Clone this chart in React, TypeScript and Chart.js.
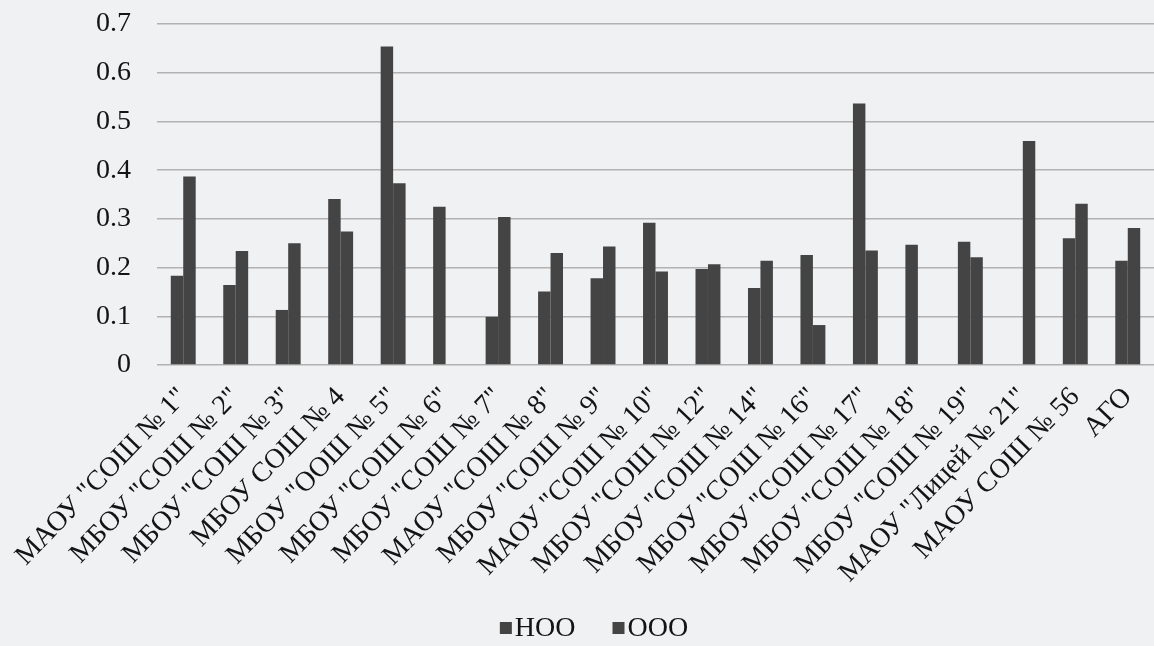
import React, { useEffect, useRef } from "react";
import { Chart, registerables } from "chart.js";

Chart.register(...registerables);

const categories: string[] = [
  'МАОУ "СОШ № 1"',
  'МБОУ "СОШ № 2"',
  'МБОУ "СОШ № 3"',
  "МБОУ СОШ № 4",
  'МБОУ "ООШ № 5"',
  'МБОУ "СОШ № 6"',
  'МБОУ "СОШ № 7"',
  'МАОУ "СОШ № 8"',
  'МБОУ "СОШ № 9"',
  'МАОУ "СОШ № 10"',
  'МБОУ "СОШ № 12"',
  'МБОУ "СОШ № 14"',
  'МБОУ "СОШ № 16"',
  'МБОУ "СОШ № 17"',
  'МБОУ "СОШ № 18"',
  'МБОУ "СОШ № 19"',
  'МАОУ "Лицей № 21"',
  "МАОУ СОШ № 56",
  "АГО",
];

const nooValues: (number | null)[] = [
  0.183, 0.164, 0.113, 0.341, 0.654, 0.325, 0.099, 0.151, 0.178, 0.292,
  0.197, 0.158, 0.226, 0.537, 0.247, 0.253, null, 0.26, 0.214,
];

const oooValues: (number | null)[] = [
  0.387, 0.234, 0.25, 0.274, 0.373, null, 0.304, 0.23, 0.243, 0.192,
  0.207, 0.214, 0.082, 0.235, null, 0.221, 0.46, 0.331, 0.281,
];

const seriesNames = ["НОО", "ООО"];
const yTicks = [0, 0.1, 0.2, 0.3, 0.4, 0.5, 0.6, 0.7];

const FONT = "'Liberation Serif', serif";
const TEXT_COLOR = "#141414";
const BAR_COLOR = "#444444";

// Excel-like legend: small square, tight gap, text; drawn at the bottom.
const bottomLegend = {
  id: "bottomLegend",
  afterDraw(chart: any) {
    const ctx = chart.ctx as CanvasRenderingContext2D;
    const items = chart.data.datasets.map((d: any) => ({
      text: d.label as string,
      color: d.backgroundColor as string,
    }));
    ctx.save();
    ctx.font = `28px ${FONT}`;
    const box = 12;
    const gapBoxText = 3;
    const gapItems = 37;
    const widths = items.map(
      (it: any) => box + gapBoxText + ctx.measureText(it.text).width
    );
    const total =
      widths.reduce((a: number, b: number) => a + b, 0) +
      gapItems * (items.length - 1);
    const centreX = 594;
    let x = centreX - total / 2;
    const cy = chart.height - 18;
    items.forEach((it: any, i: number) => {
      ctx.fillStyle = it.color;
      ctx.fillRect(x, cy - box / 2, box, box);
      ctx.fillStyle = TEXT_COLOR;
      ctx.textBaseline = "middle";
      ctx.textAlign = "left";
      ctx.fillText(it.text, x + box + gapBoxText, cy + 1);
      x += widths[i] + gapItems;
    });
    ctx.restore();
  },
};

export default function App() {
  const ref = useRef<HTMLCanvasElement | null>(null);

  useEffect(() => {
    let chart: Chart | null = null;
    let cancelled = false;
    const build = () => {
      if (cancelled || !ref.current) return;
      chart = new Chart(ref.current, {
        type: "bar",
        data: {
          labels: categories,
          datasets: [
            {
              label: seriesNames[0],
              data: nooValues,
              backgroundColor: BAR_COLOR,
              borderWidth: 0,
              categoryPercentage: 0.475,
              barPercentage: 1.0,
            },
            {
              label: seriesNames[1],
              data: oooValues,
              backgroundColor: BAR_COLOR,
              borderWidth: 0,
              categoryPercentage: 0.475,
              barPercentage: 1.0,
            },
          ],
        },
        options: {
          animation: false,
          responsive: false,
          maintainAspectRatio: false,
          layout: { padding: { top: 24, right: 0, bottom: 48, left: 0 } },
          plugins: {
            legend: { display: false },
            tooltip: { enabled: false },
          },
          scales: {
            x: {
              grid: { display: false, drawTicks: false },
              border: { display: false },
              ticks: {
                font: { family: FONT, size: 28 },
                color: TEXT_COLOR,
                minRotation: 46,
                maxRotation: 46,
                autoSkip: false,
                padding: 16,
              },
              afterFit: (scale: any) => {
                scale.height = 233;
                scale.paddingLeft = 0;
                scale.paddingRight = 0;
              },
            },
            y: {
              min: 0,
              max: 0.7,
              afterBuildTicks: (scale: any) => {
                scale.ticks = yTicks.map((v) => ({ value: v }));
              },
              grid: {
                color: "#b2b2b2",
                lineWidth: 1.5,
                drawTicks: false,
              },
              border: { display: false },
              ticks: {
                font: { family: FONT, size: 28 },
                color: TEXT_COLOR,
                padding: 26,
                callback: (v: any) => String(Math.round(Number(v) * 10) / 10),
              },
              afterFit: (scale: any) => {
                scale.width = 157;
                scale.paddingTop = 0;
                scale.paddingBottom = 0;
              },
            },
          },
        },
        plugins: [bottomLegend],
      });
    };
    const fonts: any = (document as any).fonts;
    if (fonts && fonts.load) {
      fonts
        .load("28px 'Liberation Serif'", "МАОУ НОО 0.7")
        .then(build, build);
    } else {
      build();
    }
    return () => {
      cancelled = true;
      if (chart) chart.destroy();
    };
  }, []);

  return (
    <div
      style={{
        position: "fixed",
        left: 0,
        top: 0,
        width: 1154,
        height: 646,
        background: "#f0f1f2",
      }}
    >
      <canvas ref={ref} width={1154} height={646} />
    </div>
  );
}
